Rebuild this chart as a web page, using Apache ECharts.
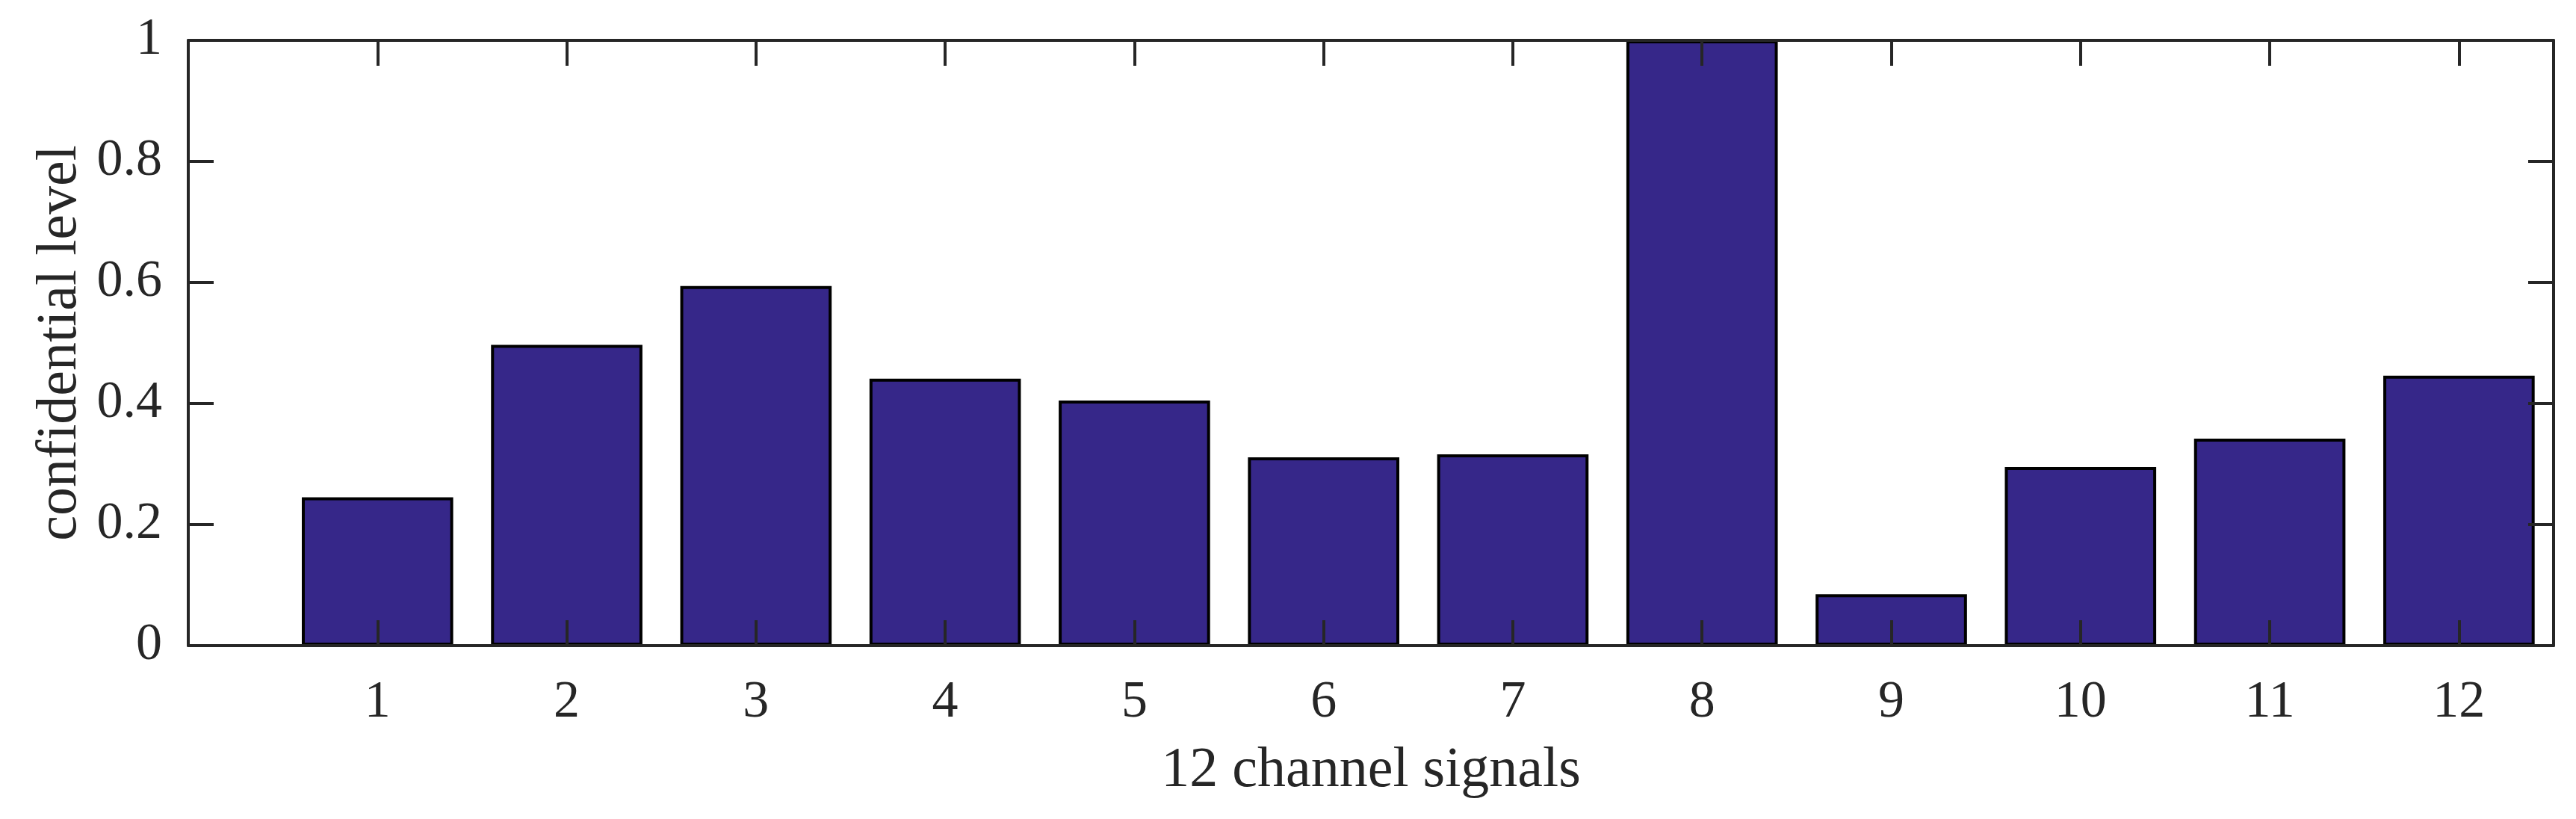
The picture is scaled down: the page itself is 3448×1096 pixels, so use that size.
<!DOCTYPE html>
<html>
<head>
<meta charset="utf-8">
<script src="https://cdn.jsdelivr.net/npm/echarts@6/dist/echarts.min.js"></script>
<style>
html,body{margin:0;padding:0;background:#fff;}
#chart{width:3448px;height:1096px;}
</style>
</head>
<body>
<div id="chart"></div>
<script>
const channels = [1, 2, 3, 4, 5, 6, 7, 8, 9, 10, 11, 12];
const confidence = [0.245, 0.497, 0.594, 0.441, 0.405, 0.311, 0.316, 1.0, 0.085, 0.295, 0.342, 0.446];
const yTicks = [0, 0.2, 0.4, 0.6, 0.8, 1];
const xTitle = '12 channel signals';
const yTitle = 'confidential level';

const FONT = "'Liberation Serif', 'Times New Roman', serif";
const AX = '#262626';
const chart = echarts.init(document.getElementById('chart'), null, {renderer: 'canvas'});

const axisCommon = {
  axisLine: {show: true, onZero: false, lineStyle: {color: AX, width: 4}},
  axisTick: {show: true, inside: true, length: 34, lineStyle: {color: AX, width: 4}},
  splitLine: {show: false},
  z: 10
};

chart.setOption({
  animation: false,
  backgroundColor: '#ffffff',
  grid: {left: 252, right: 30, top: 54, bottom: 232, containLabel: false},
  xAxis: [
    Object.assign({}, axisCommon, {
      type: 'value', position: 'bottom', min: 0, max: 12.5, interval: 1,
      axisLabel: {
        color: AX, fontFamily: FONT, fontSize: 70, margin: 42,
        formatter: v => (channels.indexOf(v) >= 0 ? String(v) : '')
      },
      name: xTitle, nameLocation: 'middle', nameGap: 130,
      nameTextStyle: {color: AX, fontFamily: FONT, fontSize: 76}
    }),
    Object.assign({}, axisCommon, {
      type: 'value', position: 'top', min: 0, max: 12.5, interval: 1,
      axisLabel: {show: false}
    })
  ],
  yAxis: [
    Object.assign({}, axisCommon, {
      type: 'value', position: 'left', min: 0, max: 1, interval: 0.2,
      axisLabel: {
        color: AX, fontFamily: FONT, fontSize: 70, margin: 35,
        formatter: v => String(yTicks.find(t => Math.abs(t - v) < 1e-9) ?? '')
      },
      name: yTitle, nameLocation: 'middle', nameGap: 100,
      nameTextStyle: {color: AX, fontFamily: FONT, fontSize: 76}
    }),
    Object.assign({}, axisCommon, {
      type: 'value', position: 'right', min: 0, max: 1, interval: 0.2,
      axisLabel: {show: false}
    })
  ],
  series: [{
    type: 'bar',
    xAxisIndex: 0,
    yAxisIndex: 0,
    barWidth: '80%',
    data: channels.map((c, i) => [c, confidence[i]]),
    itemStyle: {color: '#362789', borderColor: '#000000', borderWidth: 4},
    z: 2
  }]
});
</script>
</body>
</html>
